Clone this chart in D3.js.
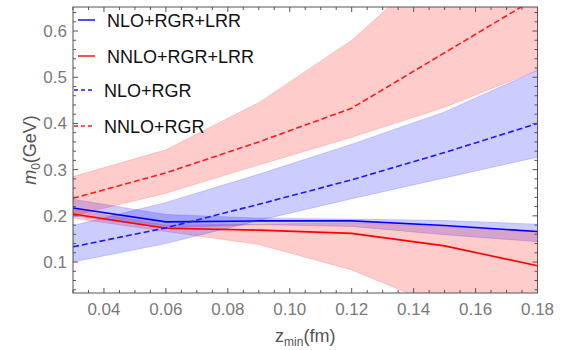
<!DOCTYPE html>
<html>
<head>
<meta charset="utf-8">
<script src="https://cdn.jsdelivr.net/npm/d3@7"></script>
<style>
  body { margin: 0; background: #fff; }
  text { font-family: "Liberation Sans", Arial, sans-serif; }
</style>
</head>
<body>
<div id="vis-holder"></div>
<script>
// z_min values (fm)
let ZMIN = [0.03, 0.06, 0.09, 0.12, 0.15, 0.18]

// NLO+RGR+LRR
let nloLrr   = [0.217, 0.187, 0.189, 0.189, 0.179, 0.166]
let nloLrrLo = [0.200, 0.174, 0.181, 0.177, 0.159, 0.144]
let nloLrrHi = [0.236, 0.203, 0.195, 0.193, 0.190, 0.182]
// NNLO+RGR+LRR
let nnloLrr   = [0.204, 0.173, 0.169, 0.162, 0.135, 0.092]
let nnloLrrLo = [0.195, 0.166, 0.138, 0.083, 0.000, -0.080]
let nnloLrrHi = [0.214, 0.180, 0.182, 0.185, 0.177, 0.166]
// NLO+RGR
let nloRgr   = [0.133, 0.174, 0.225, 0.278, 0.337, 0.400]
let nloRgrLo = [0.100, 0.140, 0.190, 0.237, 0.282, 0.327]
let nloRgrHi = [0.179, 0.229, 0.290, 0.355, 0.425, 0.515]
// NNLO+RGR
let nnloRgr   = [0.238, 0.293, 0.360, 0.433, 0.553, 0.673]
let nnloRgrLo = [0.200, 0.249, 0.310, 0.370, 0.435, 0.515]
let nnloRgrHi = [0.285, 0.343, 0.445, 0.580, 0.760, 0.930]

let X_TICKS = [0.04, 0.06, 0.08, 0.10, 0.12, 0.14, 0.16, 0.18]
let Y_TICKS = [0.1, 0.2, 0.3, 0.4, 0.5, 0.6]
let LEGEND = ["NLO+RGR+LRR", "NNLO+RGR+LRR", "NLO+RGR", "NNLO+RGR"]

var W = 567, H = 350;
var margin = {top: 7, right: 29.5, bottom: 57, left: 73},
    width = W - margin.left - margin.right,
    height = H - margin.top - margin.bottom;

var svg = d3.select("#vis-holder")
  .append("svg")
    .attr("width", W)
    .attr("height", H);

var plot = svg.append("g")
    .attr("transform", "translate(" + margin.left + "," + margin.top + ")");

var x = d3.scaleLinear().domain([0.03, 0.18]).range([0, width]);
var y = d3.scaleLinear().domain([0.033, 0.652]).range([height, 0]);

svg.append("defs").append("clipPath").attr("id", "clip")
  .append("rect").attr("width", width).attr("height", height);

var series = [
  {mid: nloLrr,  lo: nloLrrLo,  hi: nloLrrHi,  color: "#0000ff", band: "rgba(0,0,255,0.2)", dash: null},
  {mid: nnloLrr, lo: nnloLrrLo, hi: nnloLrrHi, color: "#ff0000", band: "rgba(255,0,0,0.2)", dash: null},
  {mid: nloRgr,  lo: nloRgrLo,  hi: nloRgrHi,  color: "#1a1aff", band: "rgba(0,0,255,0.2)", dash: "6,3"},
  {mid: nnloRgr, lo: nnloRgrLo, hi: nnloRgrHi, color: "#ff1a1a", band: "rgba(255,0,0,0.2)", dash: "6,3"}
];

var area = d3.area()
  .x((d, i) => x(ZMIN[i]))
  .y0(d => y(d[0]))
  .y1(d => y(d[1]));
var line = d3.line()
  .x((d, i) => x(ZMIN[i]))
  .y(d => y(d));

var inner = plot.append("g").attr("clip-path", "url(#clip)");

// bands
series.forEach(s => {
  inner.append("path")
    .datum(s.lo.map((v, i) => [v, s.hi[i]]))
    .attr("d", area)
    .attr("fill", s.band)
    .attr("stroke", s.band)
    .attr("stroke-width", 0.8);
});

// lines
series.forEach(s => {
  inner.append("path")
    .datum(s.mid)
    .attr("d", line)
    .attr("fill", "none")
    .attr("stroke", s.color)
    .attr("stroke-width", 1.6)
    .attr("stroke-dasharray", s.dash);
});

// frame + ticks
var tickColor = "#555";
plot.append("rect")
  .attr("width", width).attr("height", height)
  .attr("fill", "none").attr("stroke", tickColor).attr("stroke-width", 1);

var xMinor = d3.range(0.03, 0.1801, 0.005);
var yMinor = d3.range(0.04, 0.6501, 0.02);

function isMajor(v, list) { return list.some(t => Math.abs(t - v) < 1e-6); }

xMinor.forEach(v => {
  var len = isMajor(v, X_TICKS) ? 5 : 3;
  plot.append("line").attr("x1", x(v)).attr("x2", x(v)).attr("y1", height).attr("y2", height - len)
    .attr("stroke", tickColor);
  plot.append("line").attr("x1", x(v)).attr("x2", x(v)).attr("y1", 0).attr("y2", len)
    .attr("stroke", tickColor);
});
yMinor.forEach(v => {
  var len = isMajor(v, Y_TICKS) ? 5 : 3;
  plot.append("line").attr("x1", 0).attr("x2", len).attr("y1", y(v)).attr("y2", y(v))
    .attr("stroke", tickColor);
  plot.append("line").attr("x1", width).attr("x2", width - len).attr("y1", y(v)).attr("y2", y(v))
    .attr("stroke", tickColor);
});

// tick labels
plot.selectAll(".xl").data(X_TICKS).enter().append("text")
  .attr("x", d => x(d)).attr("y", height + 22)
  .attr("text-anchor", "middle")
  .attr("font-size", 17).attr("fill", "#7a7a7a")
  .text(d => d.toFixed(2));
plot.selectAll(".yl").data(Y_TICKS).enter().append("text")
  .attr("x", -6).attr("y", d => y(d) + 6)
  .attr("text-anchor", "end")
  .attr("font-size", 17).attr("fill", "#7a7a7a")
  .text(d => d.toFixed(1));

// axis titles
var xt = svg.append("text")
  .attr("x", margin.left + width / 2).attr("y", 342)
  .attr("text-anchor", "middle").attr("font-size", 18).attr("fill", "#555");
xt.append("tspan").text("z");
xt.append("tspan").attr("font-size", 12).attr("dy", 4).text("min");
xt.append("tspan").attr("dy", -4).text("(fm)");

var yt = svg.append("text")
  .attr("transform", "translate(36," + (margin.top + height / 2) + ") rotate(-90)")
  .attr("text-anchor", "middle").attr("font-size", 18).attr("fill", "#555");
yt.append("tspan").attr("font-style", "italic").text("m");
yt.append("tspan").attr("font-size", 12).attr("dy", 4).text("0");
yt.append("tspan").attr("dy", -4).text("(GeV)");

// legend
var legY = [20, 56, 90, 126];
var leg = svg.append("g");
series.forEach((s, i) => {
  var solid = s.dash == null;
  leg.append("line")
    .attr("x1", solid ? 78 : 74).attr("x2", solid ? 95 : 93)
    .attr("y1", legY[i]).attr("y2", legY[i])
    .attr("stroke", s.color).attr("stroke-width", 1.4)
    .attr("stroke-dasharray", solid ? null : "4,3");
  leg.append("text")
    .attr("x", solid ? 107 : 104).attr("y", legY[i] + 6.5)
    .attr("font-size", 18).attr("fill", "#111")
    .text(LEGEND[i]);
});
</script>
</body>
</html>
